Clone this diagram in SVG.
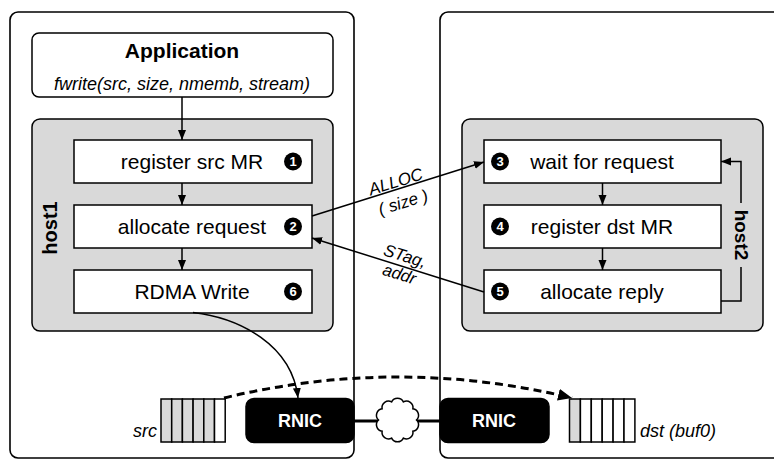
<svg xmlns="http://www.w3.org/2000/svg" width="774" height="460" viewBox="0 0 774 460">
<style>
.host{fill:#fff;stroke:#000;stroke-width:1.6}
.gray{fill:#d9d9d9;stroke:#000;stroke-width:1.5}
.box{fill:#fff;stroke:#000;stroke-width:1.5}
.t{font-family:"Liberation Sans",Arial,sans-serif;font-size:21px;fill:#000;text-anchor:middle}
.b{font-weight:bold}
.i{font-style:italic}
.num{fill:#000}
.numt{font-family:"Liberation Sans",Arial,sans-serif;font-size:13px;font-weight:bold;fill:#fff;text-anchor:middle}
.ln{fill:none;stroke:#000;stroke-width:1.5}
.lbl{font-family:"Liberation Sans",Arial,sans-serif;font-size:17px;font-style:italic;fill:#000;text-anchor:middle}
.rnic{fill:#000;stroke:#000;stroke-width:1.5}
.cg{fill:#d9d9d9;stroke:#000;stroke-width:1.5}
.cw{fill:#fff;stroke:#000;stroke-width:1.5}
</style>
<defs>
<marker id="ah" markerUnits="userSpaceOnUse" markerWidth="12" markerHeight="10" refX="10" refY="4" orient="auto">
<path d="M0,0 L10,4 L0,8 z" fill="#000"/>
</marker>
<marker id="ahb" markerUnits="userSpaceOnUse" markerWidth="16" markerHeight="14" refX="14" refY="6" orient="auto">
<path d="M0,0 L14,6 L0,12 z" fill="#000"/>
</marker>
</defs>

<g id="host1-frame"><rect class="host" x="10" y="12" width="344" height="446" rx="8"/></g>
<g id="host2-frame"><rect class="host" x="440" y="12" width="350" height="446" rx="8"/></g>

<g id="application">
<rect class="box" x="32" y="33" width="301" height="64" rx="7"/>
<text class="t b" x="182" y="58" font-size="20">Application</text>
<text class="t i" x="182" y="90" style="font-size:18px">fwrite(src, size, nmemb, stream)</text>
</g>

<g id="host1">
<rect class="gray" x="32" y="119" width="301" height="212" rx="8"/>
<text class="t b" transform="translate(57,228) rotate(-90)" style="font-size:20px">host1</text>
</g>
<g id="host2">
<rect class="gray" x="462" y="119" width="301" height="212" rx="8"/>
<text class="t b" transform="translate(735,235) rotate(90)" style="font-size:19px">host2</text>
</g>

<g id="register-src">
<rect class="box" x="74" y="140" width="238" height="43"/>
<text class="t" x="192" y="169">register src MR</text>
<circle class="num" cx="293" cy="161.5" r="9"/><text class="numt" x="293" y="166.2">1</text>
</g>
<g id="allocate-request">
<rect class="box" x="74" y="205" width="238" height="43"/>
<text class="t" x="192" y="234">allocate request</text>
<circle class="num" cx="293" cy="226.5" r="9"/><text class="numt" x="293" y="231.2">2</text>
</g>
<g id="rdma-write">
<rect class="box" x="74" y="270" width="238" height="43"/>
<text class="t" x="192" y="299">RDMA Write</text>
<circle class="num" cx="293" cy="291.5" r="9"/><text class="numt" x="293" y="296.2">6</text>
</g>

<g id="wait-request">
<rect class="box" x="484" y="140" width="237" height="43"/>
<text class="t" x="602" y="169">wait for request</text>
<circle class="num" cx="500" cy="161.5" r="9"/><text class="numt" x="500" y="166.2">3</text>
</g>
<g id="register-dst">
<rect class="box" x="484" y="205" width="237" height="43"/>
<text class="t" x="602" y="234">register dst MR</text>
<circle class="num" cx="500" cy="226.5" r="9"/><text class="numt" x="500" y="231.2">4</text>
</g>
<g id="allocate-reply">
<rect class="box" x="484" y="270" width="237" height="43"/>
<text class="t" x="602" y="299">allocate reply</text>
<circle class="num" cx="500" cy="291.5" r="9"/><text class="numt" x="500" y="296.2">5</text>
</g>

<g id="src-buffer">
<rect class="cg" x="161" y="399" width="10.7" height="43"/>
<rect class="cg" x="171.7" y="399" width="10.7" height="43"/>
<rect class="cg" x="182.4" y="399" width="10.7" height="43"/>
<rect class="cg" x="193.1" y="399" width="10.7" height="43"/>
<rect class="cg" x="203.8" y="399" width="10.7" height="43"/>
<rect class="cw" x="214.5" y="399" width="10.7" height="43"/>
<text class="t i" x="157" y="437" style="font-size:18px;text-anchor:end">src</text>
</g>
<g id="dst-buffer">
<rect class="cg" x="569.5" y="399" width="10.9" height="43"/>
<rect class="cw" x="580.4" y="399" width="10.9" height="43"/>
<rect class="cw" x="591.3" y="399" width="10.9" height="43"/>
<rect class="cw" x="602.2" y="399" width="10.9" height="43"/>
<rect class="cw" x="613.1" y="399" width="10.9" height="43"/>
<rect class="cw" x="624" y="399" width="10.9" height="43"/>
<text class="t i" x="640" y="437" style="font-size:18px;text-anchor:start">dst (buf0)</text>
</g>

<g id="rnic1">
<rect class="rnic" x="246" y="398.5" width="108" height="44" rx="8"/>
<text class="t b" x="300" y="427" style="font-size:18px;fill:#fff">RNIC</text>
</g>
<g id="rnic2">
<rect class="rnic" x="440" y="398.5" width="109" height="44" rx="8"/>
<text class="t b" x="494" y="427" style="font-size:18px;fill:#fff">RNIC</text>
</g>
<g id="network">
<path d="M354,421 H380 M416,421 H440" fill="none" stroke="#000" stroke-width="3"/>
<path d="M416.5,420 A6.5,6.5 0 0 1 412.87,431.17 A6.5,6.5 0 0 1 403.37,438.07 A6.5,6.5 0 0 1 391.63,438.07 A6.5,6.5 0 0 1 382.13,431.17 A6.5,6.5 0 0 1 378.5,420 A6.5,6.5 0 0 1 382.13,408.83 A6.5,6.5 0 0 1 391.63,401.93 A6.5,6.5 0 0 1 403.37,401.93 A6.5,6.5 0 0 1 412.87,408.83 A6.5,6.5 0 0 1 416.5,420 z" fill="#fff" stroke="#000" stroke-width="1.5"/>
</g>

<g id="connectors">
<path class="ln" d="M182,97 V140" marker-end="url(#ah)"/>
<path class="ln" d="M182,183 V205" marker-end="url(#ah)"/>
<path class="ln" d="M182,248 V270" marker-end="url(#ah)"/>
<path class="ln" d="M602.5,183 V205" marker-end="url(#ah)"/>
<path class="ln" d="M602.5,248 V270" marker-end="url(#ah)"/>
<path class="ln" d="M721,301 H741 V267"/>
<path class="ln" d="M741,203 V161.5 H721" marker-end="url(#ah)"/>
<path class="ln" d="M312,216 L484,162" marker-end="url(#ah)"/>
<path class="ln" d="M484,292 L312,238" marker-end="url(#ah)"/>
<path class="ln" d="M193,312.5 C240,318 292,345 298,398" marker-end="url(#ah)"/>
<path d="M224,398 Q398,356 572,398" fill="none" stroke="#000" stroke-width="3" stroke-dasharray="8,5" marker-end="url(#ahb)"/>
<g transform="translate(398,189) rotate(-17.3)">
<text class="lbl" x="0" y="-2">ALLOC</text>
<text class="lbl" x="1" y="20">( size )</text>
</g>
<g transform="translate(398,265) rotate(17.4)">
<text class="lbl" x="4" y="-5">STag,</text>
<text class="lbl" x="4" y="14">addr</text>
</g>
</g>
</svg>
